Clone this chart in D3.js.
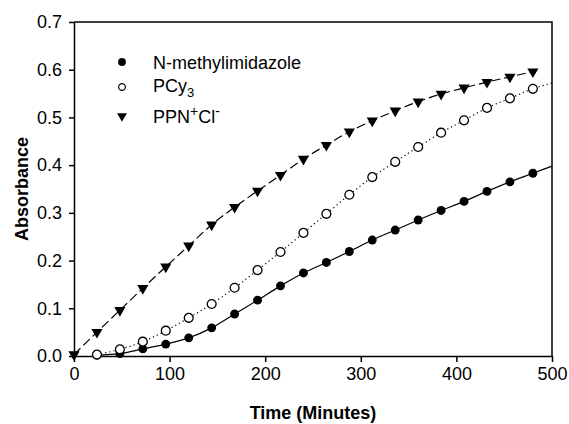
<!DOCTYPE html>
<html>
<head>
<meta charset="utf-8">
<script src="https://cdn.jsdelivr.net/npm/d3@7"></script>
<style>
  body { margin: 0; background: #fff; }
  text { font-family: Arial, "Liberation Sans", sans-serif; fill: #000; }
</style>
</head>
<body>
<script>
// time points (minutes)
const times = [0, 24, 48, 72, 96, 120, 144, 168, 192, 216, 240, 264, 288, 312, 336, 360, 384, 408, 432, 456, 480];
// N-methylimidazole (filled circles), starts at 24 min
const nmiTimes = times.slice(1);
const nmi = [0.002, 0.005, 0.015, 0.025, 0.038, 0.059, 0.088, 0.117, 0.147, 0.174, 0.196, 0.219, 0.243, 0.264, 0.285, 0.305, 0.324, 0.345, 0.365, 0.383];
// PCy3 (open circles), starts at 24 min
const pcyTimes = times.slice(1);
const pcy = [0.003, 0.014, 0.030, 0.053, 0.080, 0.109, 0.143, 0.180, 0.218, 0.258, 0.298, 0.338, 0.375, 0.407, 0.438, 0.468, 0.494, 0.520, 0.540, 0.560];
// PPN+Cl- (down triangles)
const ppn = [0.003, 0.050, 0.096, 0.142, 0.187, 0.231, 0.275, 0.312, 0.346, 0.379, 0.413, 0.442, 0.470, 0.493, 0.514, 0.533, 0.549, 0.562, 0.574, 0.585, 0.596];
// where the fitted lines run past the last point
const nmiFitEnd = [500, 0.398];
const pcyFitEnd = [500, 0.572];

const xTicks = [0, 100, 200, 300, 400, 500];
const yTicks = [0, 0.1, 0.2, 0.3, 0.4, 0.5, 0.6, 0.7];

const width = 569, height = 424;
const margin = {top: 22, right: 17, bottom: 68, left: 74};

const svg = d3.select('body').append('svg')
    .attr('width', width)
    .attr('height', height);

const x = d3.scaleLinear()
    .domain([0, 500])
    .range([margin.left, width - margin.right]);

const y = d3.scaleLinear()
    .domain([0, 0.7])
    .range([height - margin.bottom, margin.top]);

// frame (top and right)
svg.append('path')
    .attr('d', `M${x(0)},${y(0.7)}H${x(500)}V${y(0)}`)
    .attr('fill', 'none')
    .attr('stroke', '#000')
    .attr('stroke-width', 1.5);

const xAxis = svg.append('g')
    .attr('transform', `translate(0,${y(0)})`)
    .call(d3.axisBottom(x).tickValues(xTicks).tickSize(6).tickPadding(5).tickSizeOuter(0));

const yAxis = svg.append('g')
    .attr('transform', `translate(${x(0)},0)`)
    .call(d3.axisLeft(y).tickValues(yTicks).tickSize(5).tickPadding(7).tickSizeOuter(0)
        .tickFormat(d3.format('.1f')));

[xAxis, yAxis].forEach(a => {
  a.select('.domain').attr('stroke-width', 1.5);
  a.selectAll('.tick line').attr('stroke-width', 1.5);
  a.selectAll('.tick text')
      .style('font-family', 'Arial, "Liberation Sans", sans-serif')
      .style('font-size', '18px');
});

svg.append('text')
    .attr('x', x(250))
    .attr('y', 419)
    .attr('text-anchor', 'middle')
    .style('font-weight', 'bold')
    .style('font-size', '18px')
    .text('Time (Minutes)');

svg.append('text')
    .attr('transform', `translate(28,${(y(0) + y(0.7)) / 2}) rotate(-90)`)
    .attr('text-anchor', 'middle')
    .style('font-weight', 'bold')
    .style('font-size', '18px')
    .text('Absorbance');

const line = d3.line()
    .x(d => x(d[0]))
    .y(d => y(d[1]))
    .curve(d3.curveMonotoneX);

const nmiPts = nmiTimes.map((t, i) => [t, nmi[i]]);
const pcyPts = pcyTimes.map((t, i) => [t, pcy[i]]);
const ppnPts = times.map((t, i) => [t, ppn[i]]);

svg.append('path')
    .attr('d', line(nmiPts.concat([nmiFitEnd])))
    .attr('fill', 'none')
    .attr('stroke', '#000')
    .attr('stroke-width', 1.2);

svg.append('path')
    .attr('d', line(pcyPts.concat([pcyFitEnd])))
    .attr('fill', 'none')
    .attr('stroke', '#000')
    .attr('stroke-width', 1.2)
    .attr('stroke-dasharray', '1.2,3');

svg.append('path')
    .attr('d', line(ppnPts))
    .attr('fill', 'none')
    .attr('stroke', '#000')
    .attr('stroke-width', 1.2)
    .attr('stroke-dasharray', '9,4');

const circle = d3.symbol().type(d3.symbolCircle).size(62);
const tri = d3.symbol().type(d3.symbolTriangle).size(54);
const legCircle = d3.symbol().type(d3.symbolCircle).size(48);
const legOpen = d3.symbol().type(d3.symbolCircle).size(36);
const legTri = d3.symbol().type(d3.symbolTriangle).size(42);

svg.append('g').selectAll('path')
    .data(nmiPts)
    .join('path')
    .attr('transform', d => `translate(${x(d[0])},${y(d[1])})`)
    .attr('d', circle)
    .attr('fill', '#000');

svg.append('g').selectAll('path')
    .data(pcyPts)
    .join('path')
    .attr('transform', d => `translate(${x(d[0])},${y(d[1])})`)
    .attr('d', circle)
    .attr('fill', '#fff')
    .attr('stroke', '#000')
    .attr('stroke-width', 1.3);

svg.append('g').selectAll('path')
    .data(ppnPts)
    .join('path')
    .attr('transform', d => `translate(${x(d[0])},${y(d[1])}) rotate(180)`)
    .attr('d', tri)
    .attr('fill', '#000');

// legend
const legend = svg.append('g');
legend.append('path')
    .attr('transform', 'translate(122,62)')
    .attr('d', legCircle)
    .attr('fill', '#000');
legend.append('path')
    .attr('transform', 'translate(122,87)')
    .attr('d', legOpen)
    .attr('fill', '#fff')
    .attr('stroke', '#000')
    .attr('stroke-width', 1.2);
legend.append('path')
    .attr('transform', 'translate(122,116) rotate(180)')
    .attr('d', legTri)
    .attr('fill', '#000');

legend.append('text')
    .attr('x', 153).attr('y', 69)
    .style('font-size', '18px')
    .text('N-methylimidazole');

const t2 = legend.append('text')
    .attr('x', 153).attr('y', 92)
    .style('font-size', '18px');
t2.append('tspan').text('PCy');
t2.append('tspan').attr('dy', 5).style('font-size', '13px').text('3');

const t3 = legend.append('text')
    .attr('x', 153).attr('y', 123)
    .style('font-size', '18px');
t3.append('tspan').text('PPN');
t3.append('tspan').attr('dy', -7).style('font-size', '14px').text('+');
t3.append('tspan').attr('dy', 7).text('Cl');
t3.append('tspan').attr('dy', -7).style('font-size', '14px').text('-');
</script>
</body>
</html>
